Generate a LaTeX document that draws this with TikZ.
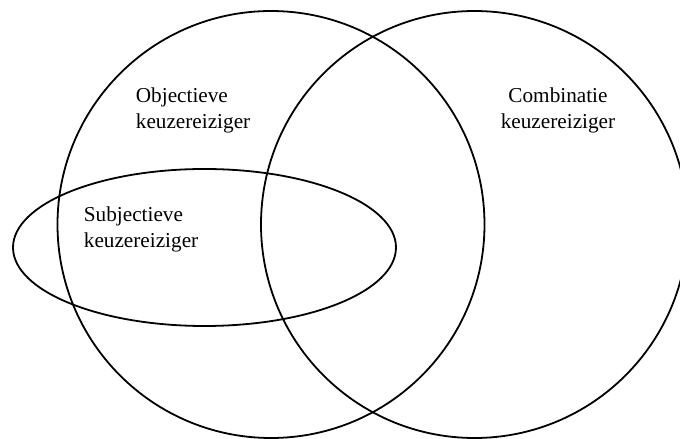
\documentclass[tikz,border=0pt]{standalone}
\usepackage{fontspec}
\setmainfont{Liberation Serif}
\usetikzlibrary{positioning}
\tikzset{
    setlabel/.style={inner sep=0pt, font=\fontsize{15.1}{18.5}\selectfont} }

\begin{document}
\begin{tikzpicture}[x=0.025cm,y=-0.025cm,line width=0.45mm]
  \useasboundingbox (0,0) rectangle (680,439);

  % the two large circles
  \draw (271,224.5) circle [radius=213.5];
  \draw (474.5,224.5) circle [radius=213.5];
  % the flat ellipse on the left
  \draw (204.5,247.5) ellipse [x radius=191.5, y radius=78.5];

  % labels (base = last line)
  \node (obj) [setlabel, align=left, anchor=base west] at (135,129) {Objectieve\\keuzereiziger};
  \node (comb) [setlabel, align=center, anchor=base] at (558,129) {Combinatie\\keuzereiziger};
  \node (subj) [setlabel, align=left, anchor=base west] at (83,248) {Subjectieve\\keuzereiziger};

\end{tikzpicture}
\end{document}
